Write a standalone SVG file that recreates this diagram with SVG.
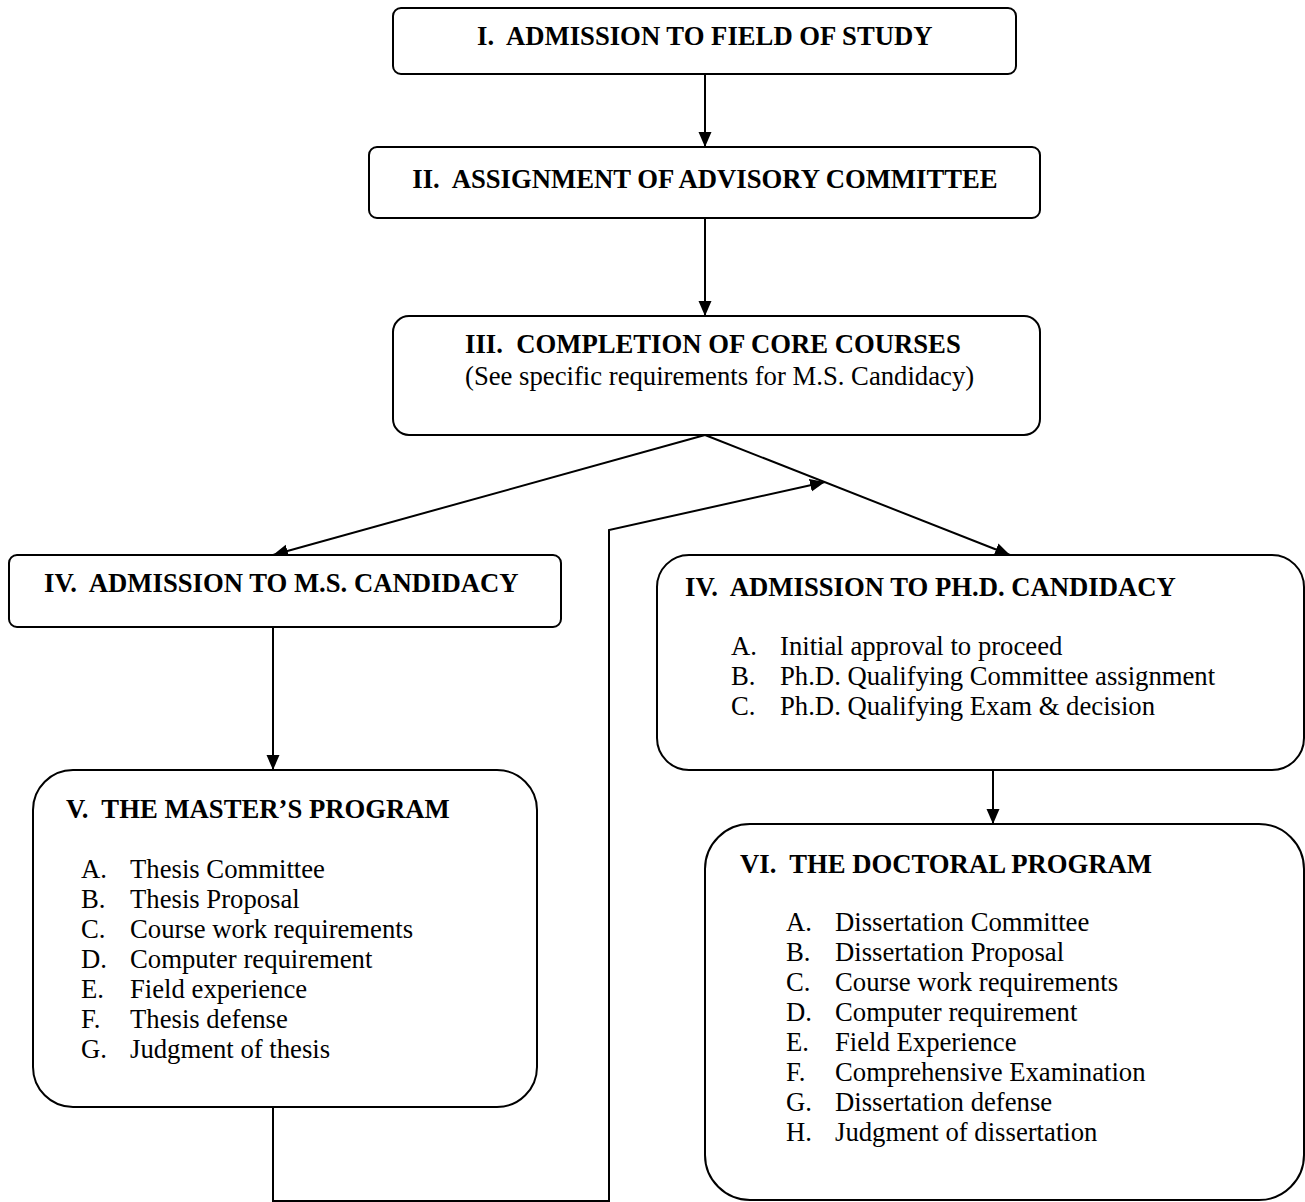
<svg xmlns="http://www.w3.org/2000/svg" width="1305" height="1202" viewBox="0 0 1305 1202" xml:space="preserve">
<style>
.box{fill:#fff;stroke:#000;stroke-width:2}
.t{font-family:"Liberation Serif","Times New Roman",serif;font-size:26.7px;fill:#000;white-space:pre}
.b{font-weight:bold}
.c{fill:none;stroke:#000;stroke-width:2}
</style>
<defs>
<marker id="ah" markerUnits="userSpaceOnUse" markerWidth="16" markerHeight="14" refX="15" refY="6.5" orient="auto">
<path d="M0,0 L15,6.5 L0,13 z" fill="#000"/>
</marker>
</defs>
<rect width="1305" height="1202" fill="#fff"/>
<g id="connectors">
<path class="c" d="M705,74 L705,147" marker-end="url(#ah)"/>
<path class="c" d="M705,218 L705,316" marker-end="url(#ah)"/>
<path class="c" d="M705,435 L273,555" marker-end="url(#ah)"/>
<path class="c" d="M705,435 L1010,555" marker-end="url(#ah)"/>
<path class="c" d="M273,627 L273,770" marker-end="url(#ah)"/>
<path class="c" d="M993,770 L993,824" marker-end="url(#ah)"/>
<path class="c" d="M273,1107 L273,1201 L609,1201 L609,530 L825,482" marker-end="url(#ah)"/>
</g>
<g id="n1">
<rect class="box" x="393" y="8" width="623" height="66" rx="8"/>
<text class="t b" x="477" y="45">I.  ADMISSION TO FIELD OF STUDY</text>
</g>
<g id="n2">
<rect class="box" x="369" y="147" width="671" height="71" rx="8"/>
<text class="t b" x="705" y="188" text-anchor="middle">II.  ASSIGNMENT OF ADVISORY COMMITTEE</text>
</g>
<g id="n3">
<rect class="box" x="393" y="316" width="647" height="119" rx="16"/>
<text class="t b" x="465" y="353">III.  COMPLETION OF CORE COURSES</text>
<text class="t" x="465" y="385">(See specific requirements for M.S. Candidacy)</text>
</g>
<g id="n4a">
<rect class="box" x="9" y="555" width="552" height="72" rx="8"/>
<text class="t b" x="44" y="592">IV.  ADMISSION TO M.S. CANDIDACY</text>
</g>
<g id="n4b">
<rect class="box" x="657" y="555" width="647" height="215" rx="32"/>
<text class="t b" x="685" y="596">IV.  ADMISSION TO PH.D. CANDIDACY</text>
<text class="t" x="731" y="655">A.</text><text class="t" x="780" y="655">Initial approval to proceed</text>
<text class="t" x="731" y="685">B.</text><text class="t" x="780" y="685">Ph.D. Qualifying Committee assignment</text>
<text class="t" x="731" y="715">C.</text><text class="t" x="780" y="715">Ph.D. Qualifying Exam &amp; decision</text>
</g>
<g id="n5">
<rect class="box" x="33" y="770" width="504" height="337" rx="40"/>
<text class="t b" x="66" y="818">V.  THE MASTER’S PROGRAM</text>
<text class="t" x="81" y="878">A.</text><text class="t" x="130" y="878">Thesis Committee</text>
<text class="t" x="81" y="908">B.</text><text class="t" x="130" y="908">Thesis Proposal</text>
<text class="t" x="81" y="938">C.</text><text class="t" x="130" y="938">Course work requirements</text>
<text class="t" x="81" y="968">D.</text><text class="t" x="130" y="968">Computer requirement</text>
<text class="t" x="81" y="998">E.</text><text class="t" x="130" y="998">Field experience</text>
<text class="t" x="81" y="1028">F.</text><text class="t" x="130" y="1028">Thesis defense</text>
<text class="t" x="81" y="1058">G.</text><text class="t" x="130" y="1058">Judgment of thesis</text>
</g>
<g id="n6">
<rect class="box" x="705" y="824" width="599" height="376" rx="45"/>
<text class="t b" x="740" y="873">VI.  THE DOCTORAL PROGRAM</text>
<text class="t" x="786" y="931">A.</text><text class="t" x="835" y="931">Dissertation Committee</text>
<text class="t" x="786" y="961">B.</text><text class="t" x="835" y="961">Dissertation Proposal</text>
<text class="t" x="786" y="991">C.</text><text class="t" x="835" y="991">Course work requirements</text>
<text class="t" x="786" y="1021">D.</text><text class="t" x="835" y="1021">Computer requirement</text>
<text class="t" x="786" y="1051">E.</text><text class="t" x="835" y="1051">Field Experience</text>
<text class="t" x="786" y="1081">F.</text><text class="t" x="835" y="1081">Comprehensive Examination</text>
<text class="t" x="786" y="1111">G.</text><text class="t" x="835" y="1111">Dissertation defense</text>
<text class="t" x="786" y="1141">H.</text><text class="t" x="835" y="1141">Judgment of dissertation</text>
</g>
</svg>
